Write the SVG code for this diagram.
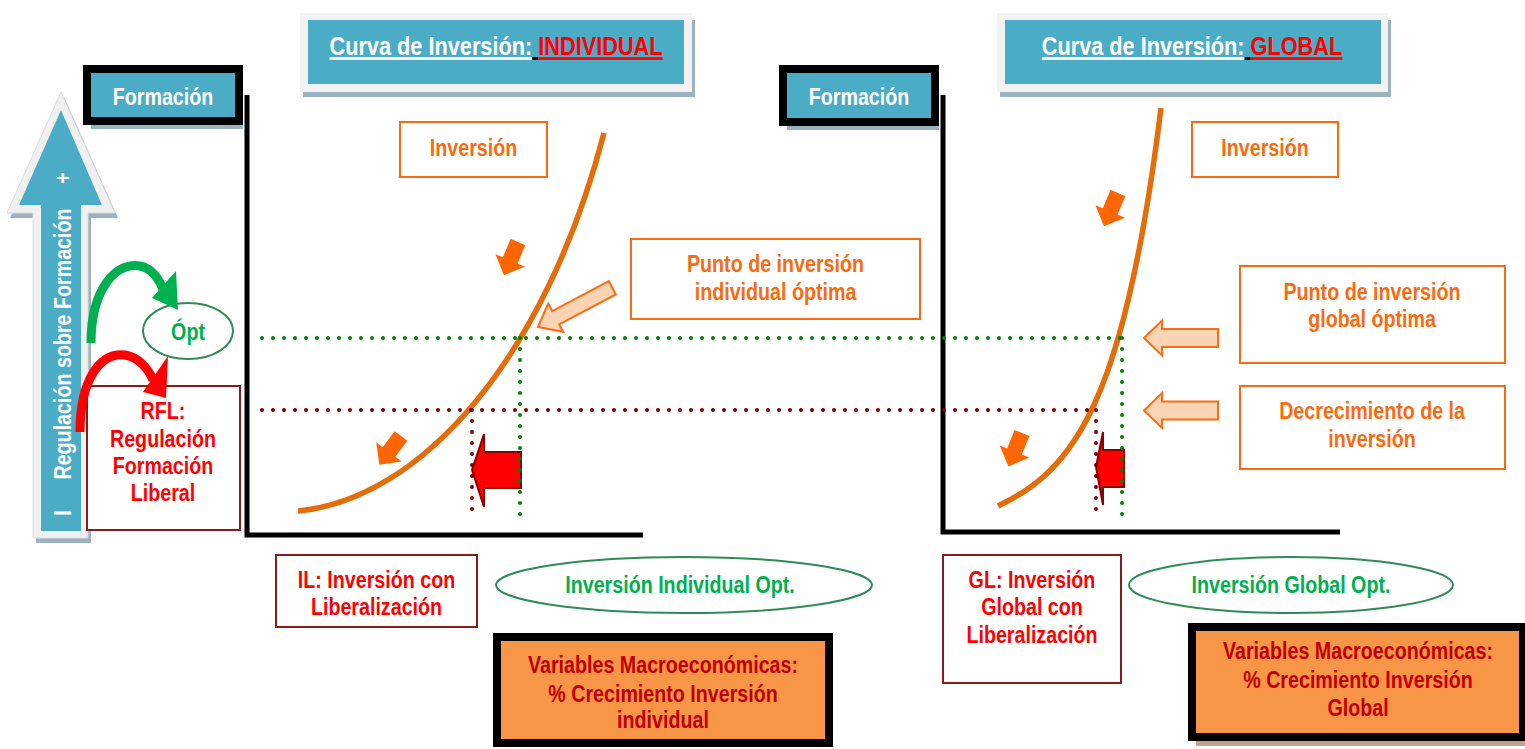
<svg xmlns="http://www.w3.org/2000/svg" width="1525" height="749" viewBox="0 0 1525 749">
<style>
text{font-family:"Liberation Sans",Arial,sans-serif;font-weight:bold;font-size:24px;text-anchor:middle;transform-box:fill-box;transform-origin:center;transform:scaleX(0.82)}
.u{text-decoration:underline}
.w{fill:#ffffff}
.or{fill:#fa6a0e}
.rd{fill:#ff0000}
.gr{fill:#00b050}
.dr{fill:#c00000}
.obox{fill:#ffffff;stroke:#fa6a0e;stroke-width:2}
.rbox{fill:#ffffff;stroke:#8b1a1a;stroke-width:2}
.gell{fill:#ffffff;stroke:#2e8b57;stroke-width:2}
.teal{fill:#4bacc6}
.frame{fill:#f2f2f2}
.shadow{fill:#9bb3be}
.blk{fill:#4bacc6;stroke:#000000;stroke-width:8}
.vars{fill:#f79646;stroke:#000000;stroke-width:8}
.axis{fill:none;stroke:#000000;stroke-width:5}
.curve{fill:none;stroke:#e46c0a;stroke-width:5.5}
.dotg{fill:none;stroke:#008000;stroke-width:4;stroke-linecap:round;stroke-dasharray:0 11}
.dotb{fill:none;stroke:#7b0000;stroke-width:4;stroke-linecap:round;stroke-dasharray:0 11}
.sarrow{fill:#ff6600}
.parrow{fill:#fbd4b4;stroke:#fd6b13;stroke-width:2}
.bigred{fill:#ff0000;stroke:#8b0000;stroke-width:2}
</style>
<defs>
<path id="smallArrow" d="M-8,0 L8,0 L8,20 L16,20 L0,36 L-16,20 L-8,20 Z"/>
<path id="peachH" d="M0,0 L18,-17.5 L18,-9 L74,-9 L74,9 L18,9 L18,17.5 Z"/>
<path id="peachD" d="M0,0 L20,-16 L20,-7.5 L84,-7.5 L84,7.5 L20,7.5 L20,16 Z"/>
</defs>

<g id="scale-arrow">
<polygon points="64,97 118,218 91,218 91,543 36,543 36,218 10,218" class="shadow"/>
<polygon points="61,92 115,213 88,213 88,538 33,538 33,213 7,213" fill="#f0f0f0" stroke="#dcdcdc" stroke-width="1"/>
<polygon points="61,110 102,205 81,205 81,531 41,531 41,205 19,205" class="teal"/>
<g transform="rotate(-90)">
<text x="-513" y="71" class="w">I</text>
<text x="-344" y="71" class="w">Regulación  sobre Formación</text>
<text x="-178" y="71" class="w">+</text>
</g>
</g>

<g id="formacion-left">
<rect x="91" y="73" width="152" height="56" class="shadow"/>
<rect x="87" y="69" width="152" height="52" class="blk"/>
<text x="163" y="105" class="w">Formación</text>
</g>

<g id="formacion-right">
<rect x="787" y="73" width="152" height="57" class="shadow"/>
<rect x="783" y="69" width="152" height="53" class="blk"/>
<text x="859" y="105" class="w">Formación</text>
</g>

<g id="title-left">
<rect x="303" y="20" width="392" height="77" class="shadow"/>
<rect x="300" y="13" width="392" height="79" class="frame"/>
<rect x="308" y="20" width="376" height="64" class="teal"/>
<text x="496" y="55" style="font-size:26.5px"><tspan class="w u">Curva de Inversión:</tspan><tspan class="u" fill="#000000"> </tspan><tspan class="rd u">INDIVIDUAL</tspan></text>
</g>

<g id="title-right">
<rect x="1000" y="20" width="391" height="77" class="shadow"/>
<rect x="997" y="13" width="391" height="79" class="frame"/>
<rect x="1005" y="20" width="376" height="64" class="teal"/>
<text x="1192" y="55" style="font-size:26.5px"><tspan class="w u">Curva de Inversión:</tspan><tspan class="u" fill="#000000"> </tspan><tspan class="rd u">GLOBAL</tspan></text>
</g>

<g id="axes">
<path d="M247,95 V535 H643" class="axis"/>
<path d="M943,95 V532 H1340" class="axis"/>
</g>

<g id="curve-left">
<path d="M298,511 C420,500 545,360 604,133" class="curve"/>
</g>
<g id="curve-right">
<path d="M998,506 C1075,470 1125,400 1161,108" class="curve"/>
</g>

<g id="red-arrow-left">
<path d="M521,452 L484,452 L484,434 L472,470 L484,507 L484,488 L521,488 Z" class="bigred"/>
</g>
<g id="red-arrow-right">
<path d="M1124,450 L1103,450 L1103,432 L1096,467 L1103,505 L1103,487 L1124,487 Z" class="bigred"/>
</g>

<g id="inversion-left">
<rect x="400" y="122" width="147" height="55" class="obox"/>
<text x="473.5" y="156" class="or">Inversión</text>
</g>
<g id="inversion-right">
<rect x="1192" y="122" width="146" height="55" class="obox"/>
<text x="1265" y="156" class="or">Inversión</text>
</g>
<g id="punto-individual">
<rect x="631" y="239" width="289" height="80" class="obox"/>
<text x="775.5" y="272" class="or">Punto de inversión</text>
<text x="775.5" y="300" class="or">individual óptima</text>
</g>
<g id="punto-global">
<rect x="1240" y="266" width="265" height="97" class="obox"/>
<text x="1372" y="300" class="or">Punto de inversión</text>
<text x="1372" y="327" class="or">global óptima</text>
</g>
<g id="decrecimiento">
<rect x="1240" y="386" width="265" height="83" class="obox"/>
<text x="1372" y="419" class="or">Decrecimiento de la</text>
<text x="1372" y="447" class="or">inversión</text>
</g>

<g id="opt">
<ellipse cx="188" cy="331" rx="45" ry="28" class="gell"/>
<text x="188" y="340" class="gr">Ópt</text>
</g>

<g id="rfl">
<rect x="87" y="386" width="153" height="144" class="rbox"/>
<text x="163" y="419" class="rd">RFL:</text>
<text x="163" y="447" class="rd">Regulación</text>
<text x="163" y="474" class="rd">Formación</text>
<text x="163" y="501" class="rd">Liberal</text>
</g>

<g id="il">
<rect x="276" y="555" width="201" height="72" class="rbox"/>
<text x="376.5" y="588" class="rd">IL: Inversión con</text>
<text x="376.5" y="615" class="rd">Liberalización</text>
</g>
<g id="gl">
<rect x="943" y="555" width="178" height="128" class="rbox"/>
<text x="1032" y="588" class="rd">GL: Inversión</text>
<text x="1032" y="615" class="rd">Global con</text>
<text x="1032" y="643" class="rd">Liberalización</text>
</g>

<g id="opt-individual">
<ellipse cx="684" cy="585" rx="188" ry="28" class="gell"/>
<text x="680" y="593" class="gr">Inversión Individual Opt.</text>
</g>
<g id="opt-global">
<ellipse cx="1291" cy="585" rx="162" ry="28" class="gell"/>
<text x="1291" y="593" class="gr">Inversión Global Opt.</text>
</g>

<g id="vars-individual">
<rect x="501" y="641" width="332" height="106" class="shadow"/>
<rect x="497" y="637" width="332" height="106" class="vars"/>
<text x="663" y="673" class="dr">Variables Macroeconómicas:</text>
<text x="663" y="702" class="dr">% Crecimiento Inversión</text>
<text x="663" y="728" class="dr">individual</text>
</g>
<g id="vars-global">
<rect x="1196" y="631" width="331" height="115" fill="#bfa48f"/>
<rect x="1192" y="627" width="331" height="110" class="vars"/>
<text x="1358" y="659" class="dr">Variables Macroeconómicas:</text>
<text x="1358" y="688" class="dr">% Crecimiento Inversión</text>
<text x="1358" y="716" class="dr">Global</text>
</g>

<g id="connectors">
<path d="M262,338 H1121" class="dotg"/>
<path d="M520,338 V524" class="dotg"/>
<path d="M1122,338 V524" class="dotg"/>
<path d="M262,410 H1096" class="dotb"/>
<path d="M472,410 V519" class="dotb"/>
<path d="M1096,410 V520" class="dotb"/>
<use href="#smallArrow" class="sarrow" transform="translate(518,242) rotate(23)"/>
<use href="#smallArrow" class="sarrow" transform="translate(401,436) rotate(37)"/>
<use href="#smallArrow" class="sarrow" transform="translate(1118,193) rotate(23)"/>
<use href="#smallArrow" class="sarrow" transform="translate(1022,433) rotate(22)"/>
<use href="#peachD" class="parrow" transform="translate(538,327) rotate(-27.8)"/>
<use href="#peachH" class="parrow" transform="translate(1144,338)"/>
<use href="#peachH" class="parrow" transform="translate(1144,410.5)"/>
<path d="M91,343 C91,290 115,262 140,266 C152,268 160,280 164,292" fill="none" stroke="#00b050" stroke-width="9"/>
<polygon points="176,271 152,298 178,310" fill="#00b050"/>
<path d="M80,432 C80,380 100,352 125,355 C138,357 148,368 153,380" fill="none" stroke="#ff0000" stroke-width="9"/>
<polygon points="168,356 143,392 166,398" fill="#ff0000"/>
</g>
</svg>
